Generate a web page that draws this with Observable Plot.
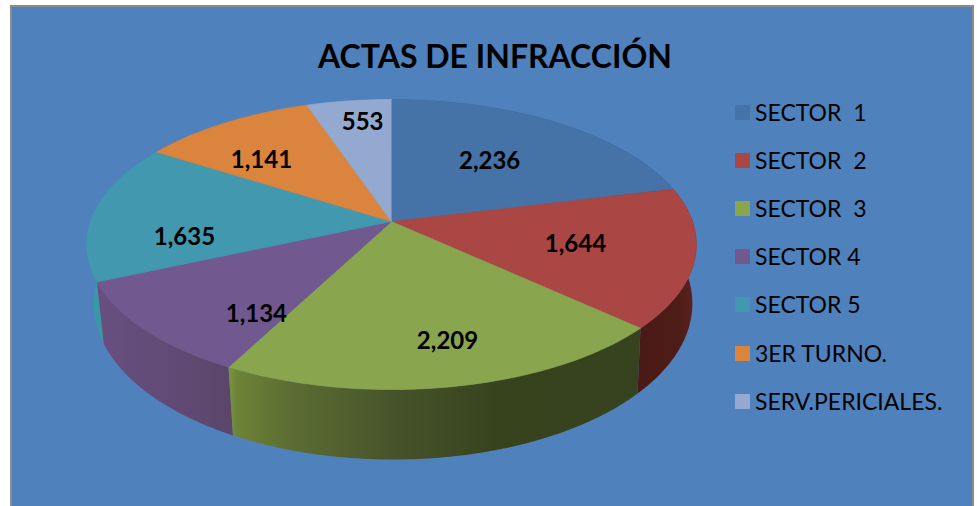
<!DOCTYPE html>
<html>
<head>
<meta charset="utf-8">
<script src="https://cdn.jsdelivr.net/npm/d3@7"></script>
<script src="https://cdn.jsdelivr.net/npm/@observablehq/plot@0.6"></script>
<style>
  html,body{margin:0;padding:0;background:#fff;overflow:hidden}
  #frame{position:absolute;left:10px;top:5px;width:960px;height:510px;background:#4f81bd;border:2px solid #8b8b8b;box-sizing:content-box}
  #chart{position:absolute;left:0;top:0}
  #title{position:absolute;left:295px;top:36px;width:400px;text-align:center;white-space:nowrap;font:700 32px Lato,sans-serif;color:#000}
  #legend{position:absolute;left:735px;top:0;font:23px Lato,sans-serif;color:#000}
  .item{position:absolute;left:0;white-space:pre;height:16px;line-height:16px}
  .item i{position:absolute;left:0;top:0;width:15px;height:15px}
  .item span{position:absolute;left:20px;top:-1px}
</style>
</head>
<body>
<div id="frame"></div>
<div id="chart"></div>
<div id="title">ACTAS DE INFRACCIÓN</div>
<div id="legend"></div>
<script>
const categories = ["SECTOR  1","SECTOR  2","SECTOR  3","SECTOR 4","SECTOR 5","3ER TURNO.","SERV.PERICIALES."];
const values = [2236,1644,2209,1134,1635,1141,553];
const valueLabels = ["2,236","1,644","2,209","1,134","1,635","1,141","553"];
const colors = ["#4572a7","#aa4643","#89a54e","#71588f","#4198af","#db843d","#93a9cf"];
const wallStops = [
  [[0,"#3a5f8a"],[1,"#2c4a6c"]],
  [[0,"#4a1a16"],[.7,"#4e1c17"],[1,"#5c2420"]],
  [[0,"#7c9440"],[.02,"#6d8336"],[.15,"#5c6d33"],[.41,"#46532a"],[.65,"#37431d"],[1,"#374220"]],
  [[0,"#684f80"],[.6,"#604a74"],[1,"#5b4669"]],
  [[0,"#3a9aa6"],[1,"#38919e"]],
  [[0,"#a8642c"],[1,"#a8642c"]],
  [[0,"#7187ad"],[1,"#7187ad"]]
];
const labelU = [.326,.611,.186,-.449,-.688,-.432,-.096];
const labelV = [-.424,.163,.849,.658,.113,-.431,-.700];

// perspective of the disc, in units of the x and y scales
const tilt = .1586, depthScaleX = .982, depthShiftX = .005, depthScaleY = 1.075, depthShiftY = .406;
const project = t => {
  const u = Math.sin(t), v = -Math.cos(t), d = 1 - tilt * v;
  return [u / d, v / d];
};
const topPt = t => { const [x,y] = project(t); return {x, y}; };
const botPt = t => { const [x,y] = project(t); return {x: x * depthScaleX + depthShiftX, y: y * depthScaleY + depthShiftY}; };

const arcs = d3.pie().sort(null)(values);
const arcSamples = (a) => {
  const n = Math.ceil((a.endAngle - a.startAngle) / .01);
  return d3.range(n + 1).map(i => a.startAngle + (a.endAngle - a.startAngle) * i / n);
};
const topFace = a => [{x:0,y:0}, ...arcSamples(a).map(topPt)];
const wall = a => { const s = arcSamples(a); return [...s.map(topPt), ...s.slice().reverse().map(botPt)]; };

const defs = () => {
  const svgNS = "http://www.w3.org/2000/svg";
  const d = document.createElementNS(svgNS, "defs");
  wallStops.forEach((stops, i) => {
    const g = document.createElementNS(svgNS, "linearGradient");
    g.setAttribute("id", "wall" + i);
    stops.forEach(([o, c]) => {
      const s = document.createElementNS(svgNS, "stop");
      s.setAttribute("offset", o);
      s.setAttribute("stop-color", c);
      g.appendChild(s);
    });
    d.appendChild(g);
  });
  return d;
};

// walls from back to front, then the top faces
const wallOrder = d3.range(arcs.length).sort((i, j) =>
  -Math.cos((arcs[i].startAngle + arcs[i].endAngle) / 2) + Math.cos((arcs[j].startAngle + arcs[j].endAngle) / 2));

const chart = Plot.plot({
  width: 977, height: 506,
  margin: 0,
  style: {background: "transparent", overflow: "visible"},
  x: {domain: [-1, 1], range: [90, 692], axis: null},
  y: {domain: [-1, 1], range: [79.6, 362.4], axis: null},
  marks: [
    defs,
    ...wallOrder.map(i => Plot.line(wall(arcs[i]), {x: "x", y: "y", fill: `url(#wall${i})`, stroke: "none"})),
    ...arcs.map((a, i) => Plot.line(topFace(a), {x: "x", y: "y", fill: colors[i], stroke: colors[i], strokeWidth: .6})),
    Plot.text(valueLabels, {
      x: (d, i) => labelU[i], y: (d, i) => labelV[i], text: d => d,
      fontFamily: "Lato, sans-serif", fontWeight: 700, fontSize: 24, fill: "#000"
    })
  ]
});
document.getElementById("chart").appendChild(chart);

const legend = d3.select("#legend");
categories.forEach((c, i) => {
  const it = legend.append("div").attr("class", "item").style("top", (105 + i * 48.1) + "px");
  it.append("i").style("background", colors[i]);
  it.append("span").text(c);
});
</script>
</body>
</html>
